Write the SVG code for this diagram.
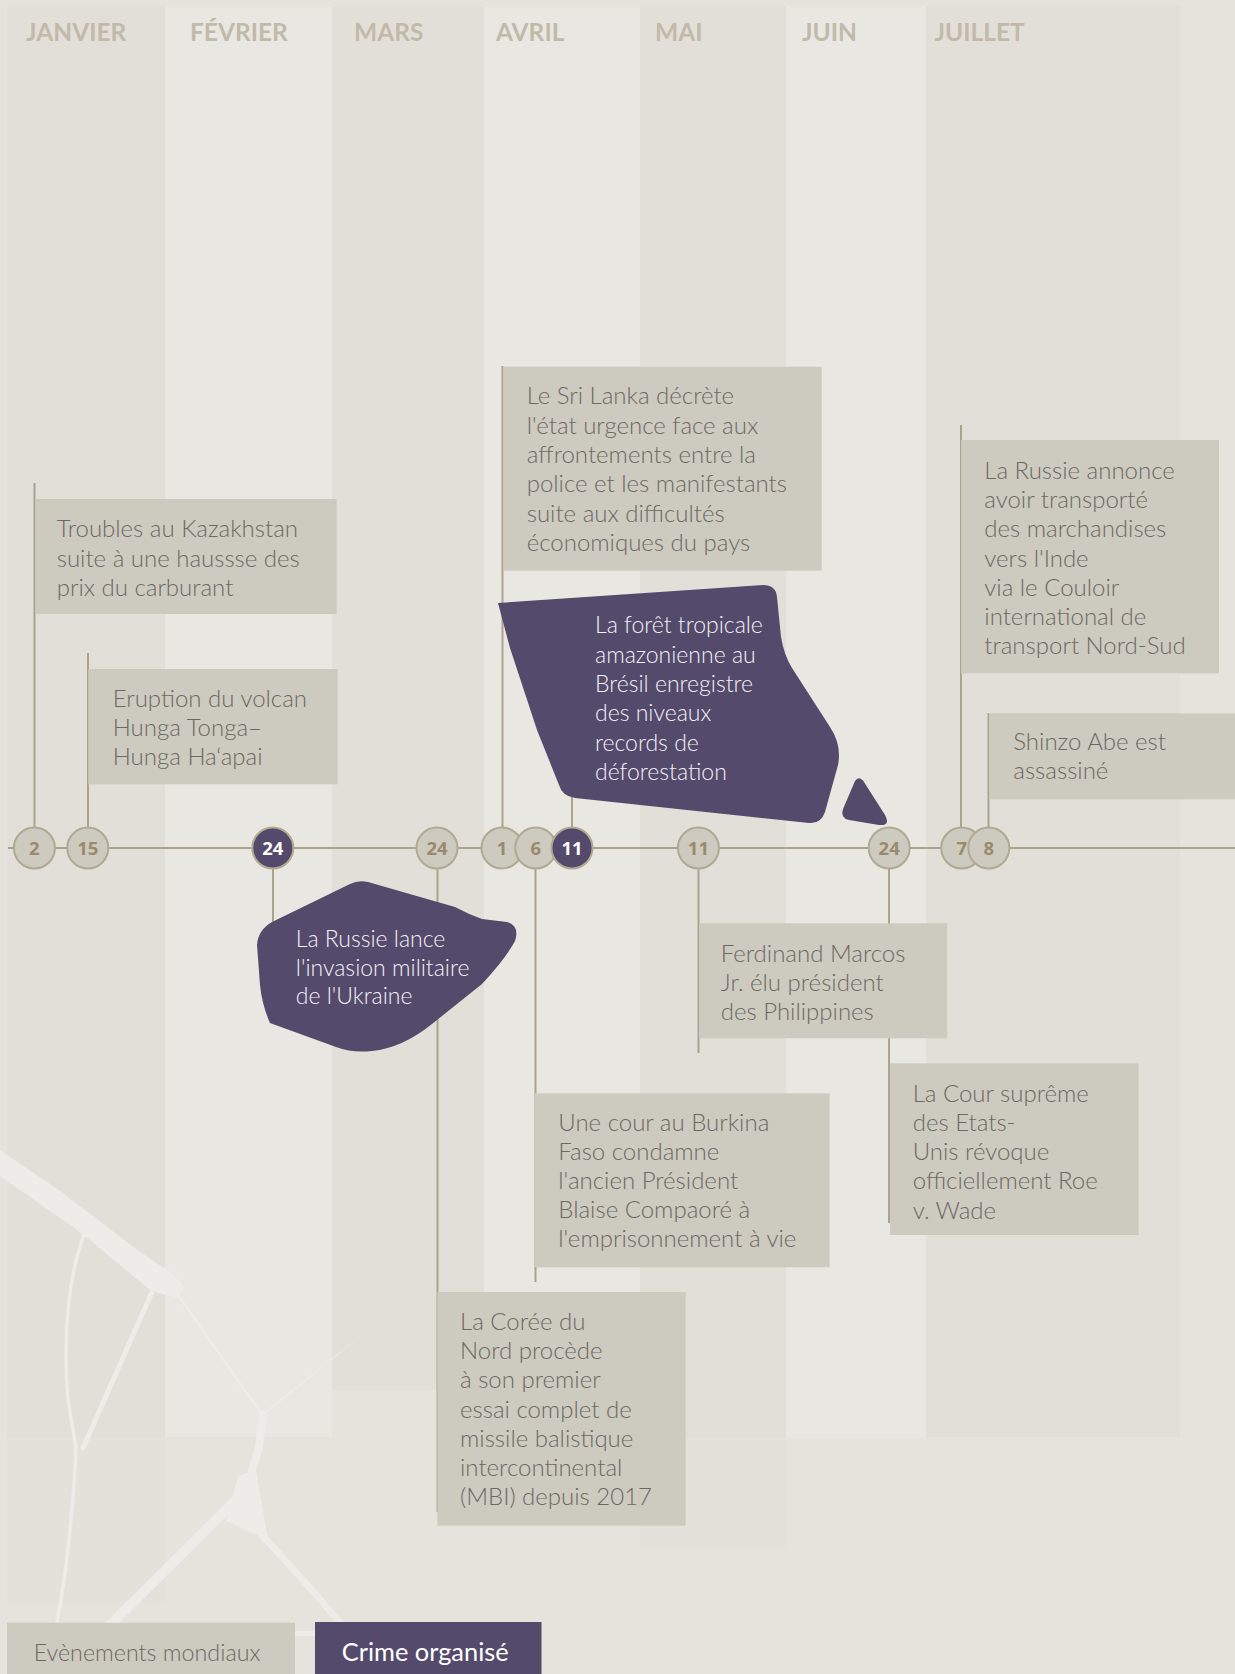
<svg xmlns="http://www.w3.org/2000/svg" width="1235" height="1674" viewBox="0 0 1235 1674">
<style>
.cd{fill:#e2dfd8}
.cl{fill:#e9e7e2}
.cx{fill:#e4e1db}
.month{font-family:Lato,"Open Sans",sans-serif;font-weight:700;font-size:24.5px;fill:#c1baa9}
.box{fill:#cdcabf}
.purple{fill:#544a6b}
.t{font-family:Lato,"Noto Sans",sans-serif;font-weight:300;font-size:24px;fill:#6c6964}
.tl{font-size:23.3px}
.tw{font-family:Lato,"Noto Sans",sans-serif;font-weight:300;font-size:23px;fill:#f3f1f6}
.stem{stroke:#aba38c;stroke-width:2;fill:none}
.dot{fill:#cdcabf;stroke:#b2a992;stroke-width:2}
.dotp{fill:#544a6b;stroke:#b2a992;stroke-width:2}
.num{font-family:"Open Sans",sans-serif;font-weight:700;font-size:18.5px;fill:#9a8a6d;text-anchor:middle}
.nump{fill:#ffffff}
.crack{fill:none;stroke:#edece8;stroke-linecap:round;stroke-linejoin:round}
.crackf{fill:#edece8}
</style>
<rect x="0" y="0" width="1235" height="1674" fill="#e6e3dd"/>
<g id="columns">
<rect class="cx" x="7" y="1437" width="158" height="165"/>
<rect class="cx" x="640" y="1437" width="146" height="110"/>
<rect class="cd" x="7" y="6" width="158" height="1431"/>
<rect class="cl" x="165" y="6" width="167" height="1431"/>
<rect class="cd" x="332" y="6" width="152" height="1384"/>
<rect class="cl" x="484" y="6" width="156" height="1437"/>
<rect class="cd" x="640" y="6" width="146" height="1431"/>
<rect class="cl" x="786" y="6" width="140" height="1432"/>
<rect class="cd" x="926" y="6" width="254" height="1431"/>
</g>
<g id="cracks">
<polygon class="crackf" points="0,1150 60,1191 140,1252 170,1272 184,1286 178,1299 150,1290 80,1232 0,1176"/>
<path class="crack" stroke-width="5" d="M152,1292 L83,1448"/>
<path class="crack" stroke-width="2.5" d="M180,1298 L263,1416"/>
<path class="crack" stroke-width="3.5" d="M85,1232 C70,1270 62,1330 68,1400 L76,1448 C74,1500 66,1580 56,1626"/>
<polygon class="crackf" points="257,1421 363,1334 268,1409"/>
<path class="crack" stroke-width="8" d="M263,1414 L259,1448 L247,1486"/>
<polygon class="crackf" points="226,1521 238,1476 256,1470 268,1540"/>
<path class="crack" stroke-width="10" d="M240,1496 L105,1630"/>
<path class="crack" stroke-width="7" d="M262,1535 L312,1590 L348,1632"/>
<rect class="crackf" x="290" y="1631" width="30" height="5"/>
</g>
<g id="months">
<text class="month" x="26" y="40.7">JANVIER</text>
<text class="month" x="190" y="40.7">FÉVRIER</text>
<text class="month" x="354" y="40.7">MARS</text>
<text class="month" x="496" y="40.7">AVRIL</text>
<text class="month" x="655" y="40.7">MAI</text>
<text class="month" x="802" y="40.7">JUIN</text>
<text class="month" x="934.5" y="40.7">JUILLET</text>
</g>
<g id="connectors">
<line class="stem" x1="8" y1="848" x2="1235" y2="848" stroke-width="2.6"/>
<line class="stem" x1="34.5" y1="483" x2="34.5" y2="848"/>
<line class="stem" x1="88" y1="653" x2="88" y2="848"/>
<line class="stem" x1="273" y1="848" x2="273" y2="935"/>
<line class="stem" x1="437.5" y1="848" x2="437.5" y2="1512"/>
<line class="stem" x1="502.5" y1="366" x2="502.5" y2="848"/>
<line class="stem" x1="535.5" y1="848" x2="535.5" y2="1282"/>
<line class="stem" x1="572" y1="790" x2="572" y2="848"/>
<line class="stem" x1="698.5" y1="848" x2="698.5" y2="1053"/>
<line class="stem" x1="889" y1="848" x2="889" y2="1223"/>
<line class="stem" x1="961" y1="425" x2="961" y2="848"/>
<line class="stem" x1="988.5" y1="713" x2="988.5" y2="848"/>
</g>
<g id="ev-kazakhstan">
<rect class="box" x="35.7" y="499" width="301" height="115"/>
<text class="t" x="56.7" y="536.7">Troubles au Kazakhstan</text>
<text class="t" x="56.7" y="566.5">suite à une haussse des</text>
<text class="t" x="56.7" y="596.3">prix du carburant</text>
</g>
<g id="ev-volcan">
<rect class="box" x="88.3" y="669" width="249.4" height="115.3"/>
<text class="t" x="112.7" y="706.7">Eruption du volcan</text>
<text class="t" x="112.7" y="736">Hunga Tonga–</text>
<text class="t" x="112.7" y="765.3">Hunga Ha‘apai</text>
</g>
<g id="ev-srilanka">
<rect class="box" x="503.3" y="366.7" width="318.4" height="204"/>
<text class="t" x="526.7" y="404.3">Le Sri Lanka décrète</text>
<text class="t" x="526.7" y="433.6">l'état urgence face aux</text>
<text class="t" x="526.7" y="462.9">affrontements entre la</text>
<text class="t" x="526.7" y="492.2">police et les manifestants</text>
<text class="t" x="526.7" y="521.5">suite aux difficultés</text>
<text class="t" x="526.7" y="550.8">économiques du pays</text>
</g>
<g id="ev-amazonie">
<path class="purple" d="M498,603 L763,585 Q776,585 777,597 L781,637 Q784,655 792,668 L830,727 Q842,745 838,765 L825,812 Q821,824 809,823 L575,798 Q562,796 559,785 L537,730 L510,648 Z"/>
<path class="purple" d="M855,781 Q859,775 864,782 L885,815 Q891,826 879,825 L849,820 Q840,818 843,809 Z"/>
<text class="tw" x="595" y="633.3">La forêt tropicale</text>
<text class="tw" x="595" y="662.6">amazonienne au</text>
<text class="tw" x="595" y="691.9">Brésil enregistre</text>
<text class="tw" x="595" y="721.2">des niveaux</text>
<text class="tw" x="595" y="750.5">records de</text>
<text class="tw" x="595" y="779.8">déforestation</text>
</g>
<g id="ev-russie-inde">
<rect class="box" x="961" y="440" width="258" height="233.3"/>
<text class="t" x="984.3" y="479">La Russie annonce</text>
<text class="t" x="984.3" y="508.2">avoir transporté</text>
<text class="t" x="984.3" y="537.4">des marchandises</text>
<text class="t" x="984.3" y="566.6">vers l'Inde</text>
<text class="t" x="984.3" y="595.8">via le Couloir</text>
<text class="t" x="984.3" y="625">international de</text>
<text class="t" x="984.3" y="654.2">transport Nord-Sud</text>
</g>
<g id="ev-abe">
<rect class="box" x="989.3" y="713.3" width="250" height="86"/>
<text class="t" x="1013.3" y="750">Shinzo Abe est</text>
<text class="t" x="1013.3" y="779.3">assassiné</text>
</g>
<g id="ev-ukraine">
<path class="purple" d="M272,922 L350,884 Q358,880 368,882 L455,907 Q468,914 482,919 L507,922 Q520,926 515,941 Q506,958 482,984 L432,1024 Q402,1048 372,1051 Q352,1053 336,1047 L270,1023 Q262,1005 260,985 L257,945 Q258,930 272,922 Z"/>
<text class="tw" x="295.8" y="946.7">La Russie lance</text>
<text class="tw" x="295.8" y="975.5">l'invasion militaire</text>
<text class="tw" x="295.8" y="1004.3">de l'Ukraine</text>
</g>
<g id="ev-marcos">
<rect class="box" x="699.2" y="923.3" width="248" height="115"/>
<text class="t" x="720.7" y="961.7">Ferdinand Marcos</text>
<text class="t" x="720.7" y="990.7">Jr. élu président</text>
<text class="t" x="720.7" y="1019.6">des Philippines</text>
</g>
<g id="ev-roe">
<rect class="box" x="890" y="1063.3" width="248.7" height="171.7"/>
<text class="t" x="912.7" y="1101.7">La Cour suprême</text>
<text class="t" x="912.7" y="1130.9">des Etats-</text>
<text class="t" x="912.7" y="1160.1">Unis révoque</text>
<text class="t" x="912.7" y="1189.3">officiellement Roe</text>
<text class="t" x="912.7" y="1218.5">v. Wade</text>
</g>
<g id="ev-burkina">
<rect class="box" x="535" y="1093.3" width="294.6" height="174"/>
<text class="t" x="558.3" y="1130.7">Une cour au Burkina</text>
<text class="t" x="558.3" y="1159.7">Faso condamne</text>
<text class="t" x="558.3" y="1188.7">l'ancien Président</text>
<text class="t" x="558.3" y="1217.7">Blaise Compaoré à</text>
<text class="t" x="558.3" y="1246.7">l'emprisonnement à vie</text>
</g>
<g id="ev-coree">
<rect class="box" x="437.3" y="1292" width="248.4" height="233.7"/>
<text class="t" x="460" y="1330">La Corée du</text>
<text class="t" x="460" y="1359.2">Nord procède</text>
<text class="t" x="460" y="1388.4">à son premier</text>
<text class="t" x="460" y="1417.6">essai complet de</text>
<text class="t" x="460" y="1446.8">missile balistique</text>
<text class="t" x="460" y="1476">intercontinental</text>
<text class="t" x="460" y="1505.2">(MBI) depuis 2017</text>
</g>
<g id="dates">
<g id="d-jan-2"><circle class="dot" cx="34.4" cy="848" r="20.5"/><text class="num" x="34.4" y="854.5">2</text></g>
<g id="d-jan-15"><circle class="dot" cx="87.8" cy="848" r="20.5"/><text class="num" x="87.8" y="854.5">15</text></g>
<g id="d-feb-24"><circle class="dotp" cx="272.8" cy="848" r="20.5"/><text class="num nump" x="272.8" y="854.5">24</text></g>
<g id="d-mar-24"><circle class="dot" cx="437" cy="848" r="20.5"/><text class="num" x="437" y="854.5">24</text></g>
<g id="d-apr-1"><circle class="dot" cx="502" cy="848" r="20.5"/><text class="num" x="502" y="854.5">1</text></g>
<g id="d-apr-6"><circle class="dot" cx="535.8" cy="848" r="20.5"/><text class="num" x="535.8" y="854.5">6</text></g>
<g id="d-apr-11"><circle class="dotp" cx="572" cy="848" r="20.5"/><text class="num nump" x="572" y="854.5">11</text></g>
<g id="d-may-11"><circle class="dot" cx="698.4" cy="848" r="20.5"/><text class="num" x="698.4" y="854.5">11</text></g>
<g id="d-jun-24"><circle class="dot" cx="889.2" cy="848" r="20.5"/><text class="num" x="889.2" y="854.5">24</text></g>
<g id="d-jul-7"><circle class="dot" cx="961.7" cy="848" r="20.5"/><text class="num" x="961.7" y="854.5">7</text></g>
<g id="d-jul-8"><circle class="dot" cx="988.8" cy="848" r="20.5"/><text class="num" x="988.8" y="854.5">8</text></g>
</g>
<g id="legend">
<g id="legend-mondiaux"><rect class="box" x="7" y="1622.7" width="288" height="52"/><text class="t tl" x="33.7" y="1660.7">Evènements mondiaux</text></g>
<g id="legend-crime"><rect class="purple" x="315" y="1622" width="226.5" height="52"/><text x="341.8" y="1660.7" font-family="Lato, 'Noto Sans', sans-serif" font-size="25.4" fill="#ffffff">Crime organisé</text></g>
</g>
</svg>
